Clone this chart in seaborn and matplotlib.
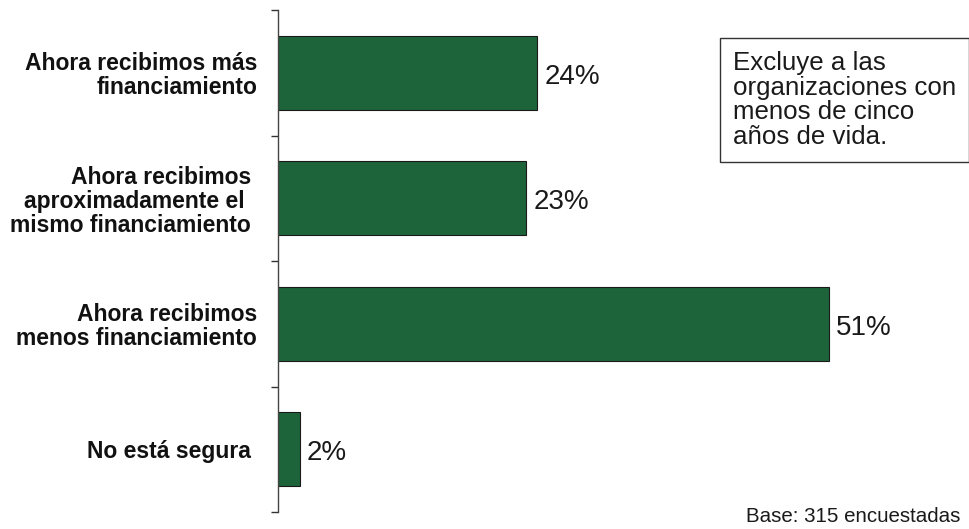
import matplotlib
matplotlib.use('Agg')
import matplotlib.pyplot as plt
import seaborn as sns
import pandas as pd

# datos del gráfico
categorias = ['Ahora recibimos más\nfinanciamiento',
              'Ahora recibimos \naproximadamente el  \nmismo financiamiento ',
              'Ahora recibimos\nmenos financiamiento',
              'No está segura ']
valores = [24, 23, 51, 2]
etiquetas = ['24%', '23%', '51%', '2%']

df = pd.DataFrame({'categoria': categorias, 'valor': valores})

sns.set_style('white')
plt.rcParams['font.family'] = ['Liberation Sans', 'DejaVu Sans']

fig = plt.figure(figsize=(9.69, 5.29), dpi=100)
ax = fig.add_axes([278 / 969, 1 - 512 / 529, 1 - 278 / 969, 502 / 529])

sns.barplot(data=df, x='valor', y='categoria', orient='h', color='#1e643a',
            saturation=1, width=0.59, edgecolor='#1a1a1a', linewidth=0.8, ax=ax)

# etiquetas de valores
for i, (v, t) in enumerate(zip(valores, etiquetas)):
    ax.text(v + 0.65, i + 0.03, t, va='center', ha='left', fontsize=20, color='#1a1a1a')

ax.set_xlim(0, 64)
ax.set_ylim(3.5, -0.5)
ax.set_xlabel('')
ax.set_ylabel('')
ax.set_xticks([])

# marcas entre categorías
ax.set_yticks([-0.5, 0.5, 1.5, 2.5, 3.5])
ax.set_yticklabels([])
ax.tick_params(axis='y', which='major', left=True, length=5, width=1, color='#333333')
ax.set_yticks(range(len(categorias)), minor=True)
ax.set_yticklabels(categorias, minor=True, fontsize=16.5, fontweight='bold',
                   color='#111111', ha='right', multialignment='right', linespacing=1.05)
ax.tick_params(axis='y', which='minor', left=False, length=0, pad=15)

for s in ['top', 'right', 'bottom']:
    ax.spines[s].set_visible(False)
ax.spines['left'].set_color('#444444')
ax.spines['left'].set_linewidth(1.0)

# nota
fig.text(733 / 969, 1 - 100 / 529,
         'Excluye a las\norganizaciones con\nmenos de cinco\naños de vida.',
         fontsize=18.6, va='center', ha='left', color='#1a1a1a', linespacing=1.03,
         bbox=dict(boxstyle='square,pad=0.5', facecolor='white', edgecolor='#333333', linewidth=1))

fig.text(960 / 969, 1 - 522 / 529, 'Base: 315 encuestadas', fontsize=14.8,
         ha='right', va='baseline', color='#1a1a1a')

fig.savefig('out.png', dpi=100)
